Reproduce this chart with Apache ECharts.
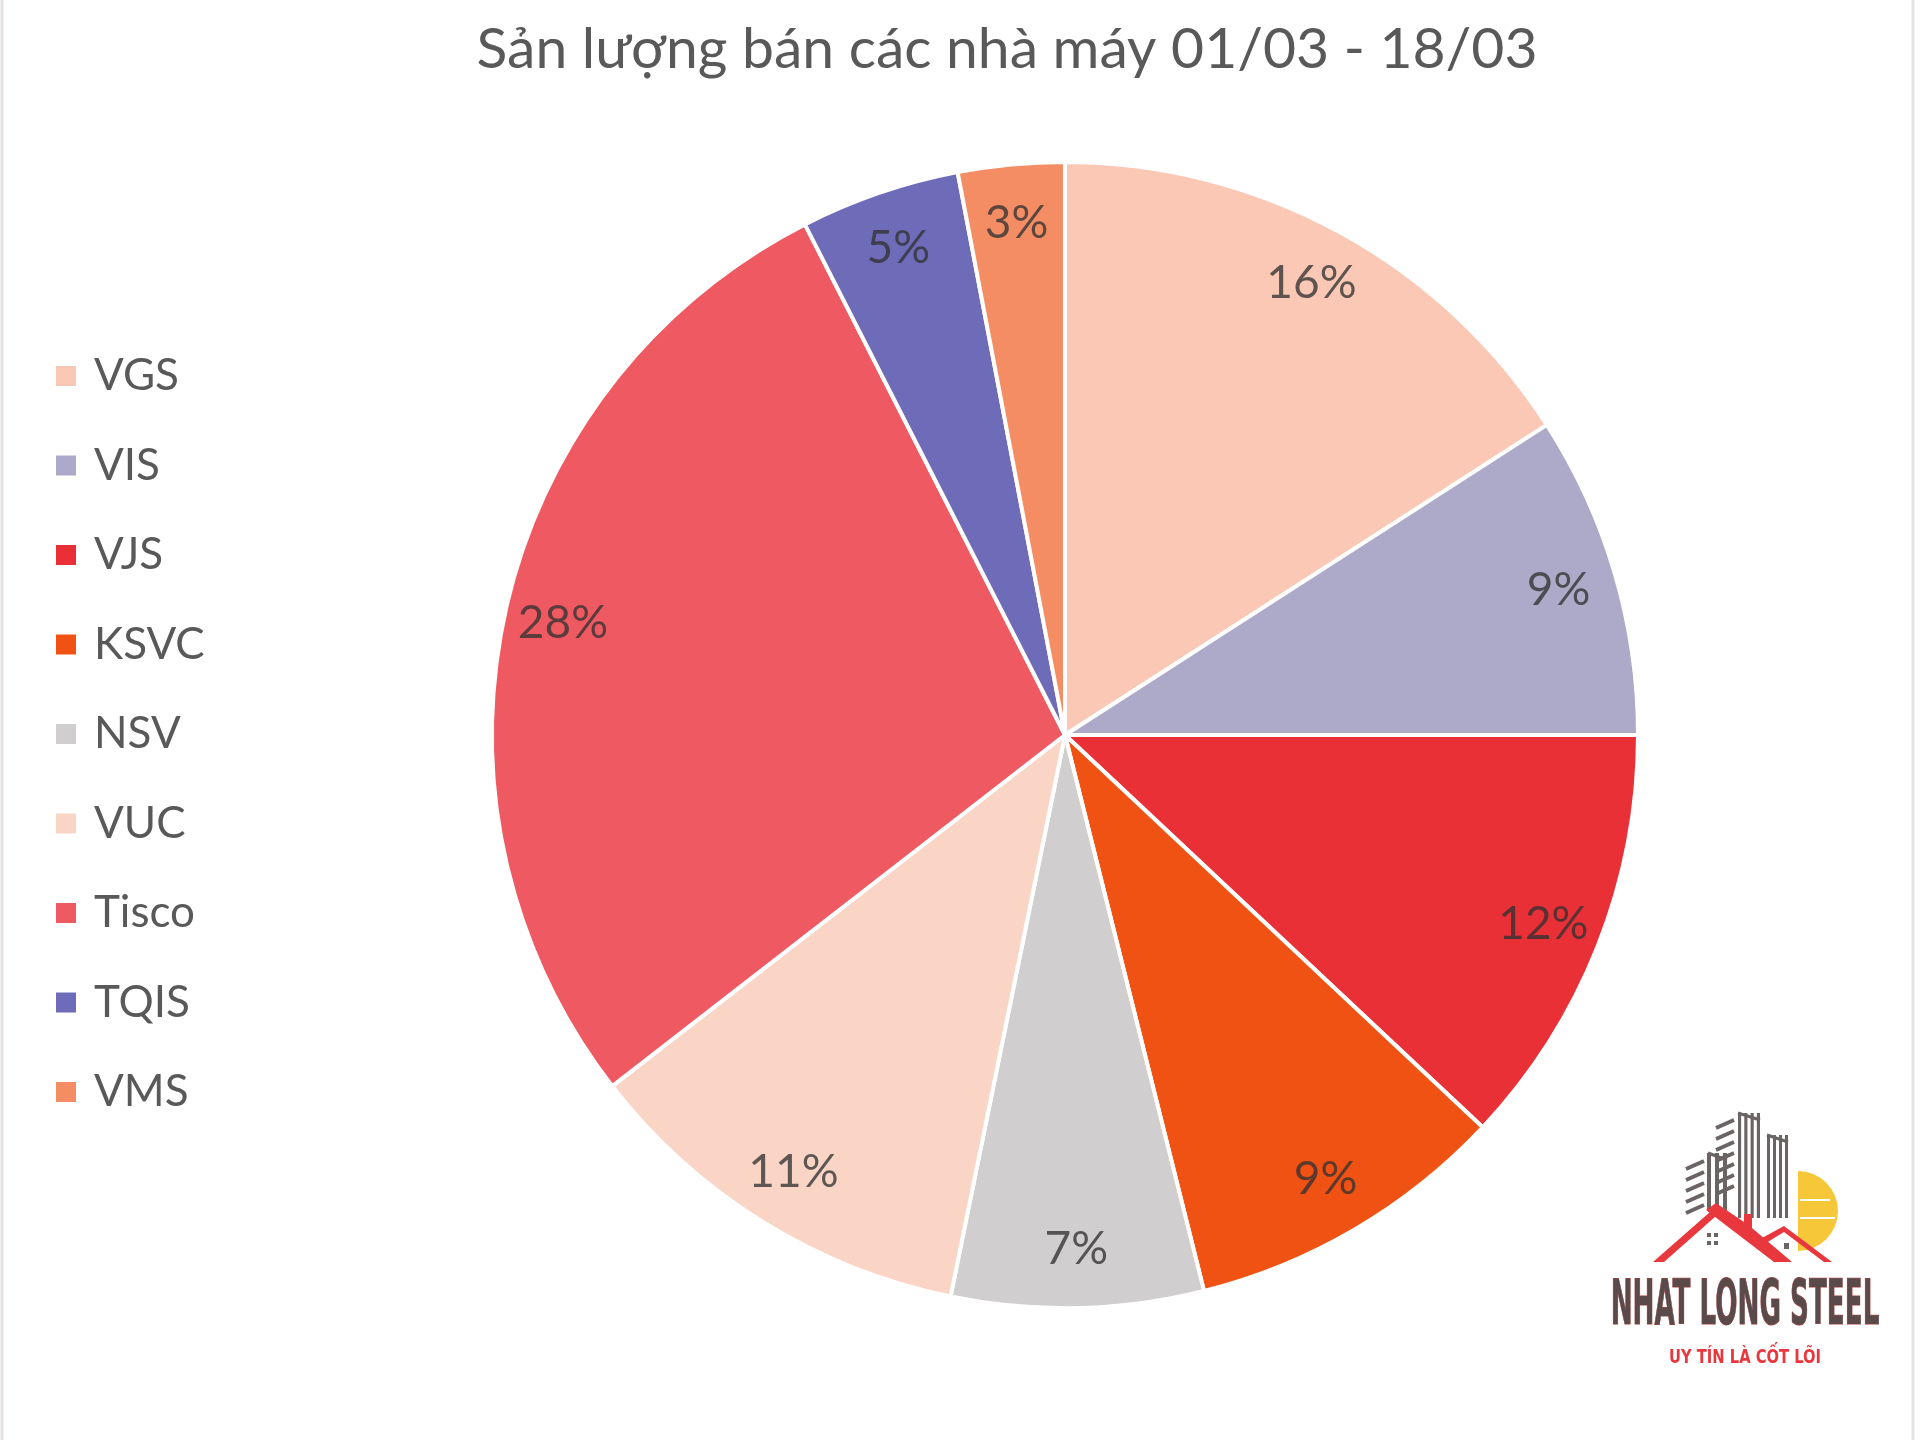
<!DOCTYPE html>
<html>
<head>
<meta charset="utf-8">
<script src="https://cdn.jsdelivr.net/npm/echarts@6/dist/echarts.min.js"></script>
<style>
html,body{margin:0;padding:0;background:#fff;}
#chart{width:1920px;height:1440px;}
</style>
</head>
<body>
<div id="chart"></div>
<script>
const titleText = 'Sản lượng bán các nhà máy 01/03 - 18/03';
const categories = ['VGS', 'VIS', 'VJS', 'KSVC', 'NSV', 'VUC', 'Tisco', 'TQIS', 'VMS'];
const shares = [15.9, 9.1, 12.0, 9.1, 7.1, 11.3, 28.0, 4.5, 3.0];
const colors = ['#FBC8B5', '#ADA9C8', '#E93037', '#F05213', '#D0CECF', '#FAD5C6', '#EF5A62', '#6E6BB9', '#F58D64'];

const chart = echarts.init(document.getElementById('chart'), null, {renderer: 'canvas'});
const pieData = categories.map((n, i) => ({name: n, value: shares[i]}));
const FONT = 'Lato, "Open Sans", sans-serif';

const pieCenter = [1065, 735];
const R = 573;

function stripes(x0, y0, w, h, n, color) {
  const out = [];
  const sw = w / (2 * n - 1);
  for (let i = 0; i < n; i++) {
    out.push({type: 'rect', shape: {x: x0 + i * 2 * sw, y: y0, width: sw, height: h}, style: {fill: color}});
  }
  return out;
}
function dashes(x0, y0, len, n, gap, color) {
  const out = [];
  for (let i = 0; i < n; i++) {
    const y = y0 + i * gap;
    out.push({type: 'line', shape: {x1: x0, y1: y + 4, x2: x0 + len, y2: y - 4}, style: {stroke: color, lineWidth: 4}});
  }
  return out;
}

const grey = '#6a6464';
const red = '#E8383D';
const logo = [].concat(
  dashes(1686, 1165, 18, 5, 11, grey),
  dashes(1716, 1124, 18, 7, 11, grey),
  stripes(1707, 1153, 20, 58, 3, grey),
  stripes(1738, 1113, 22, 105, 4, grey),
  stripes(1767, 1135, 21, 83, 4, grey),
  [
    {type: 'line', shape: {x1: 1708, y1: 1153, x2: 1727, y2: 1160}, style: {stroke: grey, lineWidth: 3}},
    {type: 'line', shape: {x1: 1738, y1: 1113, x2: 1760, y2: 1120}, style: {stroke: grey, lineWidth: 3}},
    {type: 'line', shape: {x1: 1767, y1: 1135, x2: 1788, y2: 1142}, style: {stroke: grey, lineWidth: 3}},
    {type: 'sector', shape: {cx: 1798, cy: 1211, r: 40, r0: 0, startAngle: -Math.PI / 2, endAngle: Math.PI / 2, clockwise: true}, style: {fill: '#F7C73A'}},
    {type: 'line', shape: {x1: 1800, y1: 1200, x2: 1830, y2: 1200}, style: {stroke: '#fff', lineWidth: 2}},
    {type: 'line', shape: {x1: 1800, y1: 1218, x2: 1835, y2: 1218}, style: {stroke: '#fff', lineWidth: 2}},
    {type: 'polygon', shape: {points: [[1653, 1262], [1710, 1212], [1716, 1216], [1664, 1262]]}, style: {fill: red}},
    {type: 'polygon', shape: {points: [[1706, 1210], [1716, 1203], [1744, 1222], [1744, 1214], [1752, 1214], [1752, 1228], [1792, 1262], [1774, 1262]]}, style: {fill: red}},
    {type: 'polygon', shape: {points: [[1762, 1238], [1784, 1226], [1832, 1262], [1824, 1262], [1784, 1232], [1766, 1243]]}, style: {fill: red}},
    {type: 'rect', shape: {x: 1707, y: 1233, width: 4, height: 4}, style: {fill: grey}},
    {type: 'rect', shape: {x: 1714, y: 1233, width: 4, height: 4}, style: {fill: grey}},
    {type: 'rect', shape: {x: 1707, y: 1241, width: 4, height: 4}, style: {fill: grey}},
    {type: 'rect', shape: {x: 1714, y: 1241, width: 4, height: 4}, style: {fill: grey}},
    {type: 'rect', shape: {x: 1784, y: 1243, width: 5, height: 6}, style: {fill: grey}},
    {type: 'text', x: 1745, y: 1308, scaleX: 0.47, scaleY: 1,
      style: {text: 'NHAT LONG STEEL', x: 0, y: 0, font: 'bold 62px "Liberation Sans Narrow", "DejaVu Sans Condensed", sans-serif',
        fill: '#5A4A4A', stroke: '#B8403F', lineWidth: 1, align: 'center', verticalAlign: 'middle'}},
    {type: 'text', x: 1745, y: 1358, scaleX: 0.82, scaleY: 1,
      style: {text: 'UY TÍN LÀ CỐT LÕI', x: 0, y: 0, font: 'bold 20px "Liberation Sans Narrow", "DejaVu Sans Condensed", sans-serif',
        fill: red, align: 'center', verticalAlign: 'middle'}},
    {type: 'line', shape: {x1: 2, y1: 0, x2: 2, y2: 1440}, style: {stroke: '#E6E2E2', lineWidth: 3}},
    {type: 'line', shape: {x1: 1913, y1: 0, x2: 1913, y2: 1440}, style: {stroke: '#E6E2E2', lineWidth: 3}}
  ]
);

chart.setOption({
  backgroundColor: '#fff',
  animation: false,
  color: colors,
  title: {
    text: titleText,
    left: 1002, top: 45, textAlign: 'center', textVerticalAlign: 'middle',
    textStyle: {fontFamily: FONT, fontSize: 57, fontWeight: 'normal', color: '#595959'}
  },
  legend: {
    data: categories,
    orient: 'vertical',
    left: 49, top: 349,
    icon: 'rect',
    itemWidth: 22, itemHeight: 22,
    itemGap: 45.5,
    textStyle: {fontFamily: FONT, fontSize: 44, lineHeight: 44, color: '#595959', padding: [0, 0, 0, 12]}
  },
  series: [
    {
      type: 'pie',
      center: pieCenter,
      radius: [0, R],
      startAngle: 90,
      clockwise: true,
      data: pieData,
      label: {show: false},
      labelLine: {show: false},
      itemStyle: {borderColor: '#fff', borderWidth: 4},
      emphasis: {disabled: true}
    },
    {
      type: 'pie',
      center: pieCenter,
      radius: [450, R],
      startAngle: 90,
      clockwise: true,
      silent: true,
      data: pieData,
      avoidLabelOverlap: false,
      itemStyle: {color: 'rgba(0,0,0,0)', borderWidth: 0},
      label: {
        show: true, position: 'inside',
        formatter: p => Math.round(p.percent) + '%',
        fontFamily: FONT, fontSize: 46, color: 'rgba(50,50,50,0.78)'
      },
      labelLine: {show: false},
      emphasis: {disabled: true}
    }
  ],
  graphic: logo
});
</script>
</body>
</html>
